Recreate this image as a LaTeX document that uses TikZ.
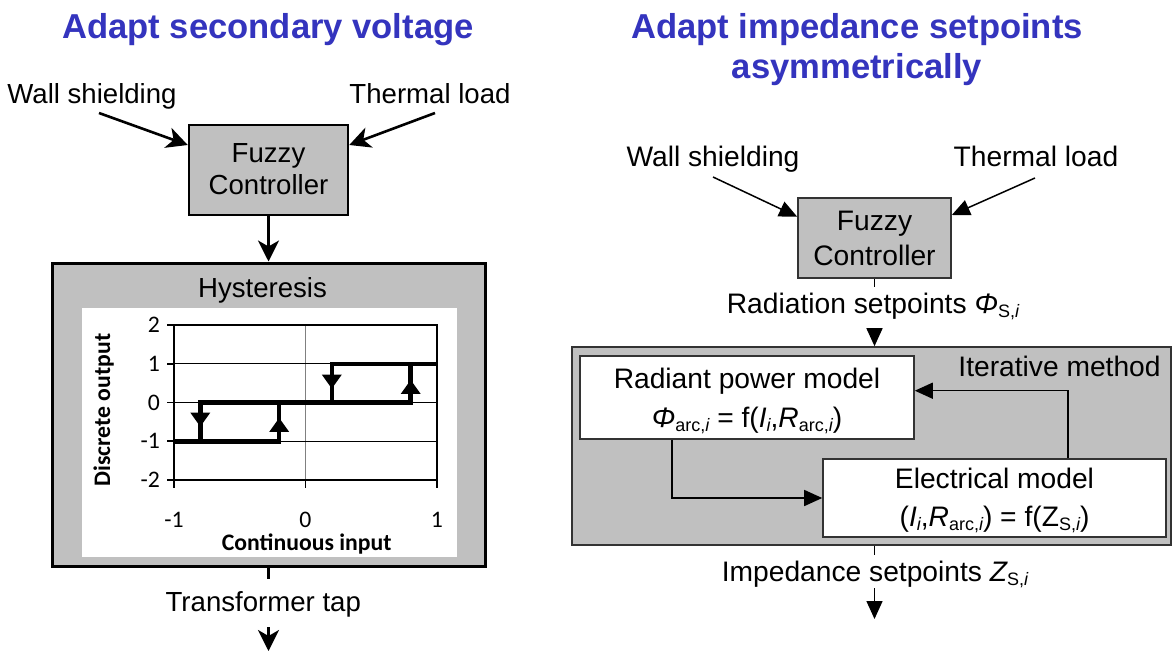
\documentclass[tikz,border=0pt]{standalone}
\usepackage{fontspec}
\setmainfont{Liberation Sans}
\newfontfamily\carlito{Carlito}
\usetikzlibrary{arrows.meta}
\definecolor{ttl}{RGB}{52,52,190}
\definecolor{boxgray}{RGB}{192,192,192}
\newcommand\sbs[1]{\raisebox{-0.15em}{\fontsize{18}{18}\selectfont #1}}
\begin{document}
\begin{tikzpicture}[x=1pt,y=-1pt,
  ttlst/.style={text=ttl, font=\fontsize{34.6}{40}\selectfont\bfseries, anchor=base, inner sep=0},
  lt/.style={font=\fontsize{27.6}{32}\selectfont, anchor=base, inner sep=0},
  rt/.style={font=\fontsize{28.2}{33}\selectfont, anchor=base, inner sep=0},
  ax/.style={font=\carlito\fontsize{23.7}{28}\selectfont, inner sep=0},
  axb/.style={font=\carlito\bfseries\fontsize{23.7}{28}\selectfont, inner sep=0},
  lbox/.style={draw=black, line width=2.5pt, fill=boxgray, inner sep=0},
  rgbox/.style={draw=black!80, line width=1.6pt, fill=boxgray, inner sep=0},
  rwbox/.style={draw=black!80, line width=1.6pt, fill=white, inner sep=0},
  lline/.style={line width=2.6pt},
  larr/.style={line width=2.6pt, -{Stealth[length=21pt,width=21pt,inset=6pt]}},
  rline/.style={line width=1.5pt},
  rarr/.style={line width=1.5pt, -{Triangle[length=18pt,width=16pt]}},
  curve/.style={line width=4.5pt, line join=miter}]
\useasboundingbox (0,0) rectangle (1172,651);
\fill[white] (0,0) rectangle (1172,651);

% ---------------- left part ----------------
\node[ttlst] (tL) at (268,38) {Adapt secondary voltage};
\node[lt] (wsL) at (92,103) {Wall shielding};
\node[lt] (tlL) at (430,103) {Thermal load};
\node[lbox, minimum width=159pt, minimum height=90pt] (fzL) at (268.5,170) {};
\node[lt] (fzL1) at (268.5,162) {Fuzzy};
\node[lt] (fzL2) at (268.5,194) {Controller};
\coordinate (wsLa) at (99,113);
\coordinate (tlLa) at (435,113);
\draw[larr] (wsLa) -- ([yshift=25pt]fzL.west);
\draw[larr] (tlLa) -- ([yshift=25pt]fzL.east);

\node[draw=black, line width=3pt, fill=boxgray, minimum width=433pt, minimum height=303pt, inner sep=0] (hyst) at (268.5,414.5) {};
\draw[larr] (fzL.south) -- (hyst.north);
\node[fill=white, minimum width=375pt, minimum height=249pt, inner sep=0] (plotbg) at (269.5,432.5) {};
\node[lt] (hystL) at (262.5,297) {Hysteresis};

\begin{scope}[shift={(305.5,402.5)}, x=131.5pt, y=38.75pt]
  \draw[gray, line width=0.9pt] (0,-2) -- (0,2);
  \foreach \v in {-1,0,1} \draw[black, line width=0.9pt] (-1,\v) -- (1,\v);
  \draw[line width=1.8pt] (-1,-2) rectangle (1,2);
  \foreach \v [count=\k] in {-2,-1,0,1,2} {
    \draw[line width=1.8pt] (-1,\v) -- ++(-7pt,0);
    \node[ax, anchor=east] (yl\k) at ([xshift=-14pt]-1,\v) {\v};
  }
  \foreach \v [count=\k] in {-1,0,1} {
    \draw[line width=1.8pt] (\v,-2) -- ++(0,-8pt);
    \node[ax, anchor=base] (xl\k) at ([yshift=-47pt]\v,-2) {\v};
  }
  \draw[curve] (-1,-1) -- (-0.2,-1) -- (-0.2,0) -- (0.8,0) -- (0.8,1) -- (1,1);
  \draw[curve] (-0.8,-1) -- (-0.8,0.06);
  \draw[curve] (-0.8,0) -- (-0.2,0);
  \draw[curve] (0.2,0) -- (0.2,1) -- (1,1);
  \fill (-0.8,-0.26) ++(-10pt,0) -- ++(20pt,0) -- ++(-10pt,-14pt) -- cycle;
  \fill (-0.2,-0.76) ++(-10pt,0) -- ++(20pt,0) -- ++(-10pt,14pt) -- cycle;
  \fill (0.2,0.72) ++(-10pt,0) -- ++(20pt,0) -- ++(-10pt,-14pt) -- cycle;
  \fill (0.8,0.22) ++(-10pt,0) -- ++(20pt,0) -- ++(-10pt,14pt) -- cycle;
\end{scope}
\node[axb, anchor=base] (xlab) at (306.7,550) {Continuous input};
\node[axb, rotate=90, anchor=base] (ylab) at (110,410) {Discrete output};

\coordinate (ttop) at (268.5,579);
\draw[lline] (hyst.south) -- (ttop);
\node[lt] (ttap) at (263.3,611.7) {Transformer tap};
\coordinate (tarrS) at (268.5,627);
\coordinate (tarrE) at (268.5,651);
\draw[larr] (tarrS) -- (tarrE);

% ---------------- right part ----------------
\node[ttlst] (tR1) at (857,38) {Adapt impedance setpoints};
\node[ttlst] (tR2) at (857,78) {asymmetrically};
\node[rt] (wsR) at (713,166.7) {Wall shielding};
\node[rt] (tlR) at (1036,166.7) {Thermal load};
\node[rgbox, minimum width=153pt, minimum height=80pt] (fzR) at (874.5,238) {};
\node[rt] (fzR1) at (874.5,230) {Fuzzy};
\node[rt] (fzR2) at (874.5,265) {Controller};
\coordinate (wsRa) at (713,177);
\coordinate (tlRa) at (1035,178);
\draw[rarr] (wsRa) -- ([yshift=21.3pt]fzR.west);
\draw[rarr] (tlRa) -- ([yshift=23pt]fzR.east);

\coordinate (radT) at (874.5,287);
\draw[rline] (fzR.south) -- (radT);
\node[rt] (radL) at (873,313.3) {Radiation setpoints {\itshape Φ}\sbs{S,{\itshape i}}};

\node[rgbox, minimum width=599pt, minimum height=198pt] (iter) at (871.5,446) {};
\coordinate (radA) at (874.5,328);
\draw[rarr] (radA) -- (radA |- iter.north);
\node[rt] (iterL) at (1059.5,376) {Iterative method};

\node[rwbox, minimum width=334pt, minimum height=83pt] (rad) at (747,397.5) {};
\node[rt] (radT1) at (747,388.3) {Radiant power model};
\node[rt] (radT2) at (747,427) {{\itshape Φ}\sbs{arc,{\itshape i}} = f({\itshape I}\sbs{\itshape i},{\itshape R}\sbs{arc,{\itshape i}})};

\node[rwbox, minimum width=343pt, minimum height=78pt] (ele) at (994.5,498) {};
\node[rt] (eleT1) at (994.5,488.3) {Electrical model};
\node[rt] (eleT2) at (994.5,526) {({\itshape I}\sbs{\itshape i},{\itshape R}\sbs{arc,{\itshape i}}) = f(Z\sbs{S,{\itshape i}})};

\draw[rarr] ([xshift=-75pt]rad.south) |- (ele.west);
\draw[rarr] ([xshift=73.5pt]ele.north) |- ([yshift=6.8pt]rad.east);

\coordinate (impT) at (874.5,555);
\draw[rline] (radA |- iter.south) -- (impT);
\node[rt] (impL) at (875,581.7) {Impedance setpoints {\itshape Z}\sbs{S,{\itshape i}}};
\coordinate (impA) at (874.5,588);
\coordinate (impE) at (874.5,619);
\draw[rarr] (impA) -- (impE);
\end{tikzpicture}
\end{document}
